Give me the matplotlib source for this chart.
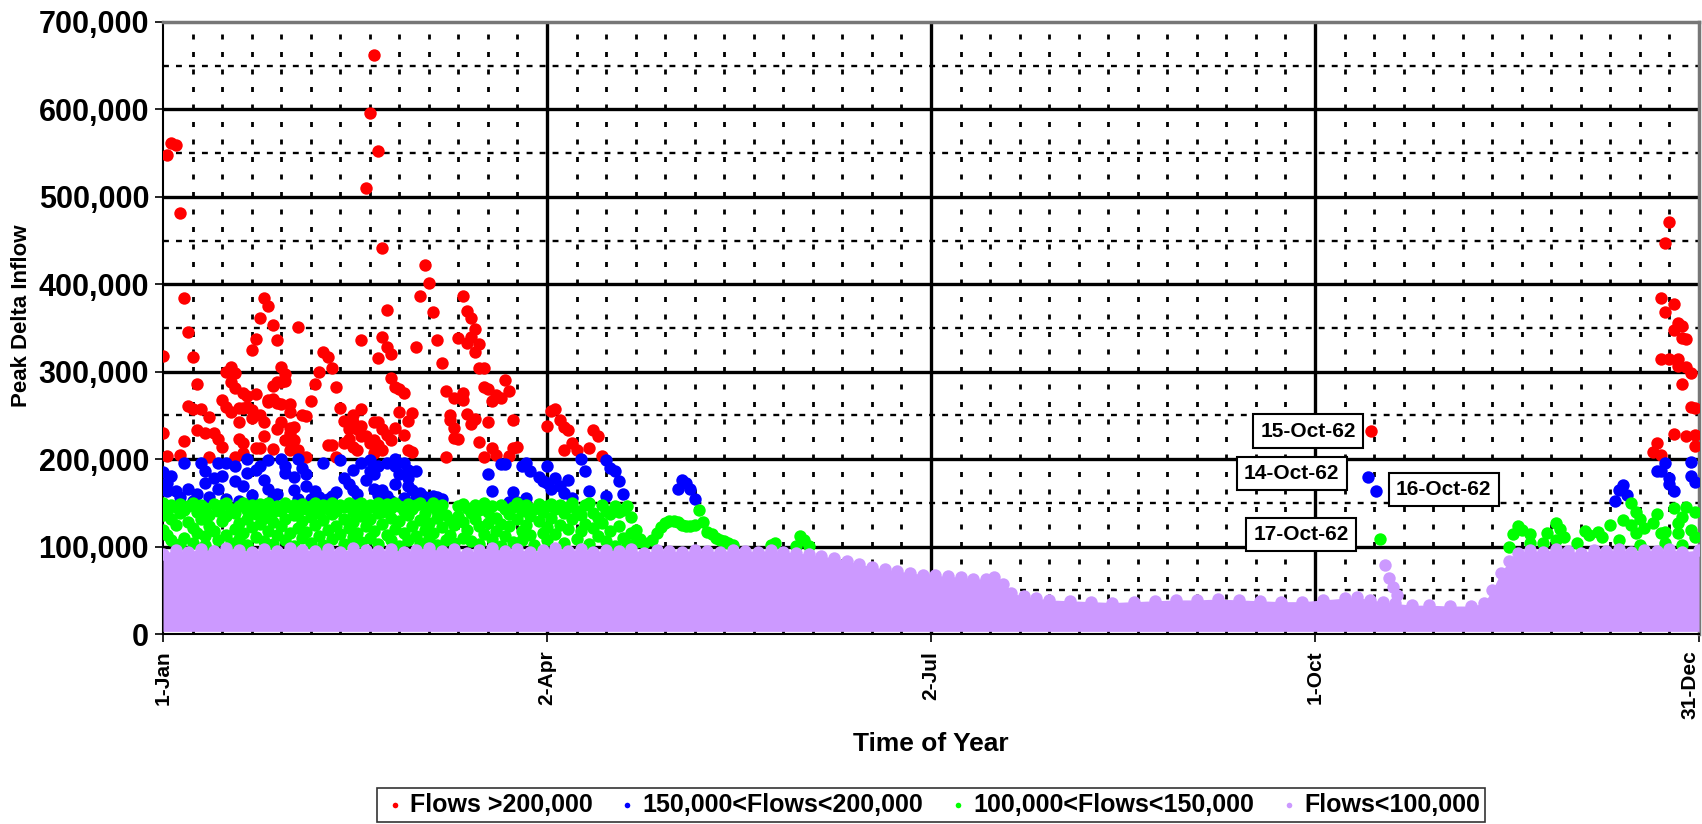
import matplotlib
matplotlib.use('Agg')
import matplotlib.pyplot as plt
from matplotlib.ticker import FuncFormatter, FixedLocator
import numpy as np

plt.rcParams['font.family'] = ['Liberation Sans', 'DejaVu Sans']
plt.rcParams['font.weight'] = 'bold'

# ---- data (day of year, flow in thousands) ----
red_day = [0, 0, 1, 1, 2, 3, 4, 4, 5, 5, 6, 6, 7, 7, 8, 8, 9, 10, 11, 11, 12, 13, 14, 14, 15, 15,
           16, 16, 16, 17, 17, 17, 18, 18, 18, 19, 19, 19, 19, 20, 20, 21, 21, 21, 22, 22, 22, 23, 23, 23,
           24, 24, 24, 25, 25, 25, 26, 26, 26, 26, 27, 27, 27, 27, 28, 28, 28, 28, 29, 29, 29, 30, 30, 30,
           30, 30, 31, 31, 32, 32, 33, 34, 34, 35, 36, 37, 38, 39, 39, 40, 40, 41, 41, 42, 43, 43, 44, 44,
           45, 45, 45, 46, 46, 47, 47, 47, 47, 48, 48, 49, 49, 50, 50, 50, 50, 51, 51, 51, 51, 52, 52, 52,
           52, 53, 53, 53, 54, 54, 54, 55, 55, 56, 56, 57, 57, 58, 58, 59, 59, 60, 61, 62, 63, 64, 65, 66,
           67, 67, 68, 68, 69, 69, 69, 70, 70, 71, 71, 71, 72, 72, 72, 73, 73, 73, 74, 74, 74, 75, 75, 75,
           76, 76, 76, 77, 77, 78, 78, 79, 79, 80, 81, 82, 82, 83, 83, 84, 91, 92, 93, 94, 95, 95, 96, 97,
           98, 101, 102, 103, 104, 286.3, 353, 354, 355, 355, 355, 356, 356, 357, 357, 358, 358, 358,
           359, 359, 359, 360, 360, 360, 361, 361, 361, 362, 362, 363, 363, 363]
red_flow = [318, 230, 204, 548, 562, 559, 481, 205, 384, 221, 345, 261, 317, 257, 286, 233, 257, 230, 248, 203,
            230, 223, 214, 268, 260, 300, 305, 254, 288, 299, 281, 203, 259, 243, 223, 276, 259, 219, 207, 272,
            260, 256, 247, 325, 274, 213, 337, 250, 213, 361, 243, 227, 384, 268, 265, 375, 269, 284, 212, 354,
            264, 288, 234, 336, 263, 305, 288, 242, 297, 289, 222, 263, 254, 236, 230, 211, 237, 222, 351, 211,
            250, 249, 203, 266, 286, 300, 323, 317, 216, 304, 216, 282, 203, 258, 244, 219, 235, 223, 243, 214,
            251, 235, 211, 238, 226, 336, 257, 226, 510, 596, 219, 662, 243, 222, 207, 552, 242, 216, 316, 441,
            234, 210, 340, 371, 228, 328, 222, 293, 320, 236, 282, 254, 280, 228, 276, 210, 244, 253, 208, 328,
            387, 422, 402, 368, 336, 310, 278, 202, 251, 245, 270, 236, 224, 338, 223, 387, 276, 268, 369, 333,
            252, 362, 340, 240, 349, 323, 246, 332, 304, 220, 304, 283, 203, 280, 243, 266, 213, 273, 205, 270,
            291, 278, 204, 245, 213, 214, 238, 255, 257, 245, 237, 210, 233, 219, 210, 213, 233, 226, 204, 232,
            208, 218, 205, 384, 315, 447, 368, 471, 315, 378, 348, 229, 356, 315, 306, 352, 338, 286, 337, 305,
            226, 298, 260, 259, 228, 215]

blue_day = [0, 1, 1, 2, 3, 4, 5, 6, 7, 8, 9, 10, 10, 11, 12, 13, 13, 14, 15, 15, 17, 17, 18, 19, 20, 20,
            21, 21, 22, 23, 24, 25, 25, 26, 27, 28, 29, 29, 31, 31, 32, 32, 33, 34, 34, 35, 36, 37, 38, 39,
            40, 41, 42, 43, 44, 45, 45, 46, 47, 48, 49, 49, 50, 50, 51, 51, 52, 53, 53, 54, 55, 55, 55, 56,
            57, 57, 58, 58, 58, 59, 60, 60, 61, 62, 63, 64, 65, 66, 77, 78, 80, 81, 82, 83, 84, 85, 86, 86,
            87, 89, 90, 91, 91, 92, 93, 94, 95, 96, 97, 99, 100, 101, 105, 105, 106, 107, 108, 109, 122,
            123, 124, 125, 126, 285.5, 287.4, 344, 345, 346, 347, 354, 355, 356, 357, 357, 358, 362, 362, 363]
blue_flow = [185, 173, 163, 181, 163, 157, 196, 166, 152, 160, 196, 186, 173, 157, 179, 196, 166, 181, 196, 154,
             192, 175, 152, 169, 200, 184, 159, 151, 188, 192, 176, 199, 166, 155, 160, 200, 192, 184, 165, 180,
             154, 200, 190, 183, 169, 154, 163, 157, 196, 154, 158, 162, 199, 178, 171, 188, 165, 160, 196, 176,
             199, 186, 183, 166, 192, 159, 165, 196, 158, 152, 200, 192, 171, 183, 196, 155, 178, 169, 188, 165,
             186, 155, 161, 157, 152, 158, 157, 154, 183, 164, 195, 195, 151, 162, 151, 192, 196, 156, 186, 180,
             175, 192, 173, 166, 178, 169, 161, 176, 155, 200, 186, 164, 199, 158, 190, 186, 175, 160, 166, 176,
             173, 166, 154, 180, 163, 152, 165, 170, 159, 187, 186, 196, 179, 171, 164, 197, 181, 174]

green_pts = [
    (0, 150), (0, 136), (0, 119), (1, 140), (1, 113), (2, 147), (2, 131), (2, 108), (3, 145), (3, 125),
    (4, 149), (4, 138), (4, 103), (5, 142), (5, 110), (6, 146), (6, 128), (7, 150), (7, 121), (7, 104),
    (8, 139), (8, 115), (9, 148), (9, 131), (10, 144), (10, 112), (10, 102), (11, 136), (11, 124),
    (12, 149), (12, 118), (13, 141), (13, 107), (14, 147), (14, 129), (15, 150), (15, 135), (15, 113),
    (16, 143), (16, 104), (17, 138), (17, 120), (18, 146), (18, 127), (18, 109), (19, 150), (19, 115),
    (20, 142), (20, 132), (20, 102), (21, 147), (21, 122), (22, 137), (22, 111), (23, 149), (23, 126),
    (24, 144), (24, 133), (24, 106), (25, 150), (25, 118), (26, 139), (26, 128), (26, 103), (27, 146),
    (27, 113), (28, 141), (28, 123), (29, 150), (29, 131), (29, 108), (30, 145), (30, 116), (31, 148),
    (31, 136), (31, 101), (32, 140), (32, 121), (33, 149), (33, 129), (33, 110), (34, 143), (34, 117),
    (35, 146), (35, 134), (35, 104), (36, 150), (36, 125), (37, 138), (37, 112), (38, 147), (38, 130),
    (38, 102), (39, 143), (39, 119), (40, 150), (40, 137), (40, 109), (41, 141), (41, 124), (42, 148),
    (42, 114), (43, 145), (43, 132), (43, 103), (44, 150), (44, 121), (45, 139), (45, 128), (45, 111),
    (46, 147), (46, 116), (47, 150), (47, 135), (47, 105), (48, 142), (48, 123), (49, 148), (49, 131),
    (49, 110), (50, 145), (50, 118), (51, 150), (51, 138), (51, 103), (52, 140), (52, 126), (53, 149),
    (53, 113), (54, 144), (54, 133), (54, 107), (55, 150), (55, 120), (56, 146), (56, 129), (56, 101),
    (57, 141), (57, 115), (58, 149), (58, 136), (58, 108), (59, 143), (59, 124), (60, 147), (60, 112),
    (61, 150), (61, 130), (61, 104), (62, 138), (62, 119), (63, 145), (63, 127), (63, 110), (64, 150),
    (64, 115), (65, 141), (65, 133), (65, 102), (66, 148), (66, 122), (67, 136), (67, 108), (68, 130),
    (68, 113), (69, 125), (69, 104), (70, 146), (70, 135), (71, 149), (71, 128), (71, 110), (72, 144),
    (72, 119), (73, 138), (73, 106), (74, 147), (74, 131), (75, 142), (75, 123), (75, 103), (76, 150),
    (76, 114), (77, 139), (77, 127), (78, 146), (78, 109), (79, 133), (79, 118), (80, 148), (80, 126),
    (80, 101), (81, 143), (81, 112), (82, 137), (82, 124), (83, 145), (83, 105), (84, 150), (84, 132),
    (85, 141), (85, 118), (85, 107), (86, 147), (86, 125), (87, 135), (87, 113), (88, 143), (88, 102),
    (89, 149), (89, 129), (90, 140), (90, 116), (91, 146), (91, 122), (91, 108), (92, 149), (92, 133),
    (93, 143), (93, 114), (94, 147), (94, 125), (95, 138), (95, 104), (96, 145), (96, 120), (97, 150),
    (97, 131), (98, 141), (98, 109), (99, 136), (99, 118), (100, 147), (100, 126), (101, 150), (101, 103),
    (102, 138), (102, 121), (103, 133), (103, 112), (104, 147), (104, 127), (105, 141), (105, 106),
    (106, 137), (106, 118), (107, 146), (107, 101), (108, 140), (108, 124), (109, 142), (109, 110),
    (110, 146), (110, 103), (111, 134), (111, 115), (112, 119), (112, 105), (113, 109), (114, 104),
    (116, 108), (117, 116), (118, 122), (119, 127), (120, 129), (121, 129), (122, 128), (123, 125),
    (124, 123), (125, 124), (126, 125), (127, 142), (128, 128), (129, 117), (130, 114), (131, 110),
    (132, 108), (133, 106), (134, 104), (135, 102), (144, 102), (145, 104), (150, 101), (151, 112),
    (152, 108), (153, 101), (288.4, 109),
    (319, 100), (320, 114), (321, 123), (322, 119), (324, 114), (324, 104), (327, 104), (328, 116),
    (330, 127), (330, 108), (331, 120), (332, 111), (335, 104), (337, 118), (338, 113), (340, 117),
    (341, 111), (343, 125), (345, 108), (346, 130), (348, 150), (348, 125), (349, 139), (349, 116),
    (350, 131), (350, 102), (351, 121), (353, 127), (354, 137), (355, 116), (356, 117), (356, 104),
    (358, 144), (359, 127), (359, 116), (360, 134), (360, 102), (361, 145), (362, 119), (363, 140),
    (363, 111)]
green_day = [p[0] for p in green_pts]
green_flow = [p[1] for p in green_pts]

# flows < 100,000 form a near-solid band; upper edge
purple_day = [0, 3, 6, 9, 12, 15, 18, 21, 24, 27, 30, 33, 36, 39, 42, 45, 48, 51, 54, 57, 60, 63, 66,
              69, 72, 75, 78, 81, 84, 87, 90, 93, 96, 99, 102, 105, 108, 111, 114, 117, 120, 123, 126,
              129, 132, 135, 138, 141, 144, 147, 150, 153, 156, 159, 162, 165, 168, 171, 174, 177, 180,
              183, 186, 189, 192, 195, 197, 199, 201, 204, 207, 210, 215, 220, 225, 230, 235, 240, 245,
              250, 255, 260, 265, 270, 275, 280, 283, 286, 289, 292, 296, 300, 305, 310, 313, 315, 317,
              319, 321, 324, 327, 330, 333, 336, 339, 342, 345, 348, 351, 354, 357, 360, 364]
purple_top = [97, 101, 99, 102, 100, 103, 101, 99, 102, 100, 103, 101, 100, 102, 99, 103, 101, 100, 102,
              99, 101, 103, 100, 102, 98, 101, 103, 100, 102, 99, 101, 103, 100, 102, 99, 101, 100, 102,
              98, 101, 100, 99, 101, 100, 99, 101, 100, 99, 101, 99, 98, 96, 94, 92, 89, 85, 82, 79, 77,
              75, 73, 72, 71, 70, 68, 68, 70, 62, 52, 48, 46, 44, 43, 42, 41, 42, 43, 44, 44, 45, 44,
              43, 42, 42, 44, 46, 47, 44, 42, 40, 38, 38, 37, 37, 40, 55, 75, 88, 98, 101, 99, 102, 100,
              98, 101, 100, 102, 99, 101, 100, 102, 99, 101]
purple_bottom = 3
purple_extra_day = [289.5, 290.5, 291.5, 292.5]
purple_extra_flow = [79, 64, 54, 45]

notes = [('15-Oct-62', 286.3, 232, (-63, 0)),
         ('14-Oct-62', 285.5, 180, (-76, 3)),
         ('16-Oct-62', 287.4, 163, (68, 2)),
         ('17-Oct-62', 288.4, 109, (-79, 4))]

RED, BLUE, GREEN, PURPLE = '#FF0000', '#0000FF', '#00FF00', '#CC99FF'

fig = plt.figure(figsize=(17.02, 8.24), dpi=100)
ax = fig.add_axes([163 / 1702, 190 / 824, 1536 / 1702, 612 / 824])

k = 1000.0
ms = 80
ax.scatter(red_day, np.array(red_flow) * k, s=ms, c=RED, lw=0, zorder=3, label='Flows >200,000')
ax.scatter(blue_day, np.array(blue_flow) * k, s=ms, c=BLUE, lw=0, zorder=4, label='150,000<Flows<200,000')
ax.scatter(green_day, np.array(green_flow) * k, s=ms, c=GREEN, lw=0, zorder=5, label='100,000<Flows<150,000')
# edge marker centres sit one marker radius below the visible edge
edge = (np.array(purple_top) - 5) * k
ax.fill_between(purple_day, purple_bottom * k, edge, color=PURPLE, lw=0, zorder=6)
ax.scatter(purple_day + purple_extra_day, np.concatenate([edge, np.array(purple_extra_flow) * k]), s=ms,
           c=PURPLE, lw=0, zorder=6, label='Flows<100,000')

# grid
for y in range(100000, 700000, 100000):
    ax.axhline(y, color='black', lw=2.4, zorder=1)
for y in range(50000, 700000, 100000):
    ax.axhline(y, color='black', lw=1.7, ls=(0, (2.5, 3)), zorder=1)
for x in [91, 182, 273]:
    ax.axvline(x, color='black', lw=2.4, zorder=1)
for x in range(7, 364, 7):
    if x % 91:
        ax.axvline(x, color='black', lw=2.0, ls=(0, (1.8, 4.5)), zorder=1)

ax.set_xlim(0, 364)
ax.set_ylim(0, 700000)
ax.xaxis.set_major_locator(FixedLocator([0, 91, 182, 273, 364]))
ax.set_xticklabels(['1-Jan', '2-Apr', '2-Jul', '1-Oct', '31-Dec'], rotation=90, fontsize=15, fontweight='bold')
ax.get_xticklabels()[-1].set_ha('right')
ax.yaxis.set_major_locator(FixedLocator(range(0, 700001, 100000)))
ax.yaxis.set_major_formatter(FuncFormatter(lambda v, p: '{:,.0f}'.format(v)))
ax.tick_params(axis='y', labelsize=22, length=6, width=1.2, pad=4)
ax.tick_params(axis='x', length=6, width=1.2, pad=6)
for s in ['left', 'bottom']:
    ax.spines[s].set_linewidth(1.5)
for s in ['top', 'right']:
    ax.spines[s].set_color('#777777')
    ax.spines[s].set_linewidth(2.5)

ax.set_xlabel('Time of Year', fontsize=19, fontweight='bold', labelpad=9)
ax.set_ylabel('Peak Delta Inflow', fontsize=16, fontweight='bold', labelpad=12)
ax.yaxis.set_label_coords(-0.085, 0.52)

for txt, d, v, off in notes:
    ax.annotate(txt, xy=(d, v * k), xytext=off, textcoords='offset pixels', ha='center', va='center',
                fontsize=15, fontweight='bold', zorder=10,
                bbox=dict(boxstyle='square,pad=0.35', fc='white', ec='black', lw=1.5))

leg = fig.legend(loc='lower center', bbox_to_anchor=(931 / 1702, 0.0), ncol=4, fontsize=18,
                 frameon=True, fancybox=False, edgecolor='black', markerscale=0.45, borderaxespad=0.1,
                 handletextpad=0.1, columnspacing=0.9, borderpad=0.2, handlelength=1.0)
leg.get_frame().set_linewidth(1.2)

fig.savefig('out.png', dpi=100)
